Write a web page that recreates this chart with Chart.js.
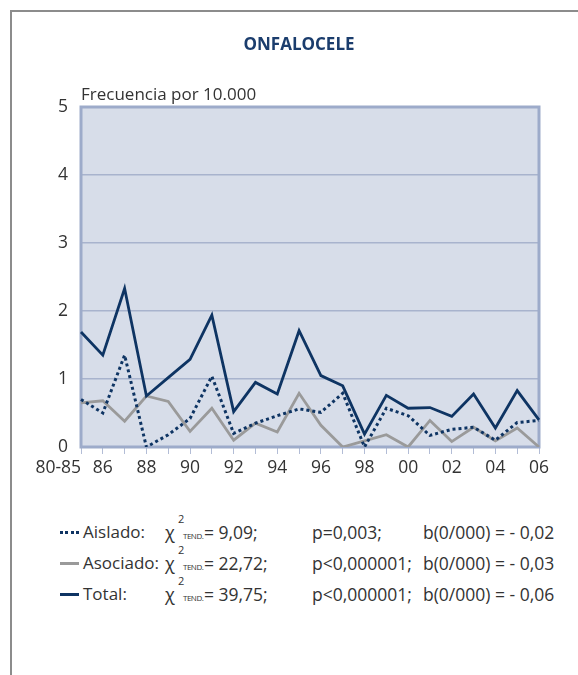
<!DOCTYPE html>
<html>
<head>
<meta charset="utf-8">
<script src="https://cdn.jsdelivr.net/npm/chart.js@4"></script>
<style>
  html, body { margin:0; padding:0; background:#fff; width:578px; height:675px; overflow:hidden; font-family:"Open Sans", "Noto Sans", sans-serif; }
  #frame { position:absolute; left:10px; top:10px; width:700px; height:800px; border-left:2px solid #8c8c8c; border-top:2px solid #8c8c8c; }
  #cv { position:absolute; left:0; top:0; }
  .t { position:absolute; white-space:nowrap; color:#333; }
  #title { left:0; width:598px; text-align:center; top:33px; font-weight:bold; font-size:17px; line-height:22px; color:#1b3d6d; }
  #ytitle { left:81px; top:83px; font-size:17px; line-height:22px; }
  .row { position:absolute; left:0; width:578px; height:24px; }
  .row .t { font-size:17.5px; line-height:24px; top:0; }
  .row .nm { font-size:17px; }
  .row .chi { font-size:18px; top:0; }
  .row .sup { font-size:11px; line-height:12px; top:-7px; }
  .row .sub { font-size:8px; line-height:10px; top:11px; letter-spacing:-0.5px; }
  .sample { position:absolute; left:60px; width:19px; top:11px; }
</style>
</head>
<body>
<div id="frame"></div>
<canvas id="cv" width="578" height="500"></canvas>
<div class="t" id="title">ONFALOCELE</div>
<div class="t" id="ytitle">Frecuencia por 10.000</div>
<div id="legend"></div>
<script>
const years = ['80-85','86','87','88','89','90','91','92','93','94','95','96','97','98','99','00','01','02','03','04','05','06'];
const total    = [1.69,1.35,2.33,0.75,1.02,1.29,1.94,0.52,0.95,0.78,1.71,1.05,0.90,0.19,0.76,0.57,0.58,0.45,0.78,0.28,0.83,0.40];
const aislado  = [0.70,0.50,1.35,0.00,0.18,0.42,1.04,0.20,0.35,0.46,0.56,0.51,0.79,0.00,0.57,0.46,0.17,0.26,0.29,0.10,0.36,0.39];
const asociado = [0.65,0.68,0.38,0.75,0.67,0.23,0.57,0.10,0.35,0.22,0.79,0.32,0.00,0.09,0.18,0.00,0.39,0.08,0.29,0.09,0.28,0.00];
const yTicks = [0,1,2,3,4,5];
const seriesNames = ['Aislado:','Asociado:','Total:'];
const chiValues = ['= 9,09;','= 22,72;','= 39,75;'];
const pValues = ['p=0,003;','p<0,000001;','p<0,000001;'];
const bValues = ['b(0/000) = - 0,02','b(0/000) = - 0,03','b(0/000) = - 0,06'];

const DARK = '#0e3463', GRAY = '#9a9a9a';
const FONT = '"Open Sans", "Noto Sans", sans-serif';

// legend (HTML text)
const samples = [
  'border-top:3px dotted ' + DARK,
  'border-top:3px solid ' + GRAY,
  'border-top:3px solid ' + DARK
];
const rowTops = [520, 551, 582];
const legend = document.getElementById('legend');
seriesNames.forEach((name, i) => {
  const r = document.createElement('div');
  r.className = 'row';
  r.style.top = rowTops[i] + 'px';
  r.innerHTML =
    '<div class="sample" style="' + samples[i] + '"></div>' +
    '<span class="t nm" style="left:83px">' + name + '</span>' +
    '<span class="t chi" style="left:165px">χ</span>' +
    '<span class="t sup" style="left:178px">2</span>' +
    '<span class="t sub" style="left:183px">TEND.</span>' +
    '<span class="t" style="left:204px">' + chiValues[i] + '</span>' +
    '<span class="t" style="left:312px">' + pValues[i] + '</span>' +
    '<span class="t" style="left:423px">' + bValues[i] + '</span>';
  legend.appendChild(r);
});

const plotFrame = {
  id: 'plotFrame',
  beforeDraw(chart) {
    const a = chart.chartArea, ctx = chart.ctx;
    ctx.save();
    ctx.fillStyle = '#d7dde9';
    ctx.fillRect(a.left, a.top, a.right - a.left, a.bottom - a.top);
    ctx.restore();
  },
  beforeDatasetsDraw(chart) {
    const a = chart.chartArea, ctx = chart.ctx;
    ctx.save();
    ctx.strokeStyle = '#9dabca';
    ctx.lineWidth = 3;
    ctx.strokeRect(a.left, a.top, a.right - a.left, a.bottom - a.top);
    ctx.restore();
  }
};

new Chart(document.getElementById('cv'), {
  type: 'line',
  data: {
    labels: years,
    datasets: [
      { label: 'Total', data: total, borderColor: DARK, borderWidth: 2.8, pointRadius: 0, tension: 0, fill: false },
      { label: 'Aislado', data: aislado, borderColor: DARK, borderWidth: 3, borderDash: [3, 3], pointRadius: 0, tension: 0, fill: false },
      { label: 'Asociado', data: asociado, borderColor: GRAY, borderWidth: 2.8, pointRadius: 0, tension: 0, fill: false }
    ]
  },
  options: {
    responsive: false,
    animation: false,
    layout: { padding: { top: 107, left: 0, right: 39, bottom: 13 } },
    plugins: { legend: { display: false }, title: { display: false }, tooltip: { enabled: false } },
    scales: {
      x: {
        type: 'category',
        offset: false,
        afterFit(s) { s.height = 40; },
        grid: { drawOnChartArea: false, drawTicks: true, tickLength: 7, tickColor: '#b3bdd6', lineWidth: 1 },
        border: { display: false },
        ticks: {
          autoSkip: false, maxRotation: 0, minRotation: 0, padding: 4,
          color: '#333', font: { family: FONT, size: 17.5 },
          callback(v, i) {
            if (i === 0) return years[0] + '          ';
            return (i % 2 === 1) ? years[i] : '';
          }
        }
      },
      y: {
        min: 0, max: 5,
        afterFit(s) { s.width = 81; },
        afterBuildTicks(s) { s.ticks = yTicks.map(v => ({ value: v })); },
        grid: { drawTicks: false, color: '#a8b3cd', lineWidth: 1.5 },
        border: { display: false },
        ticks: { padding: 13, color: '#333', font: { family: FONT, size: 17.5 } }
      }
    }
  },
  plugins: [plotFrame]
});
</script>
</body>
</html>
